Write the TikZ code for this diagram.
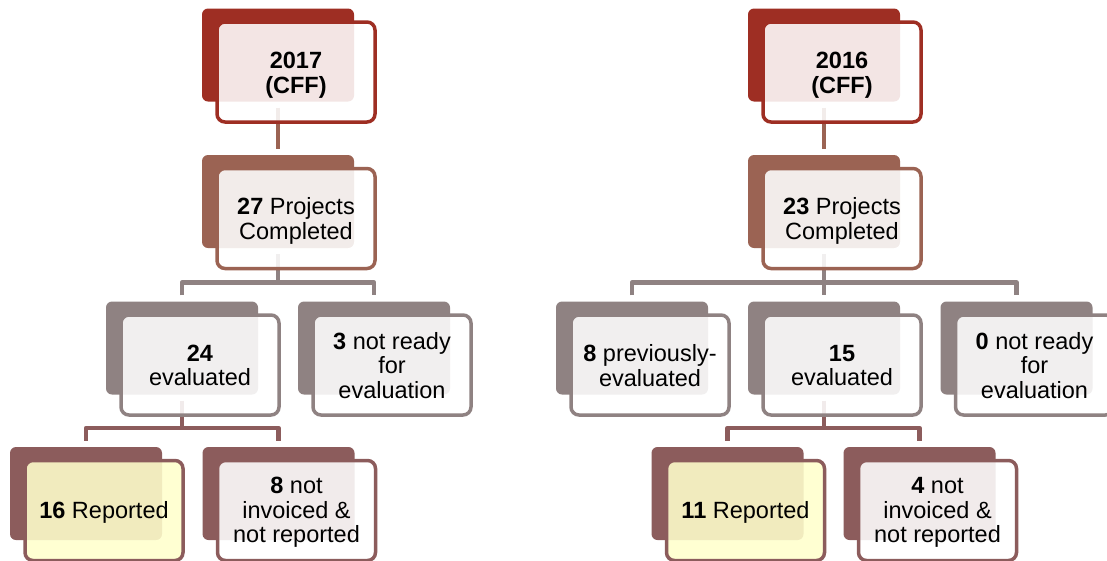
\documentclass[tikz,border=0pt]{standalone}
\usepackage{fontspec}
\setmainfont{Liberation Sans}
\usetikzlibrary{calc}
\definecolor{lvA}{RGB}{158,46,35}
\definecolor{lvB}{RGB}{155,99,83}
\definecolor{lvC}{RGB}{143,130,130}
\definecolor{lvD}{RGB}{140,92,92}
\definecolor{hl}{RGB}{255,255,204}
\begin{document}
\begin{tikzpicture}[x=1pt,y=-1pt,
  back/.style={rectangle, rounded corners=6pt, minimum width=152pt,
    minimum height=93pt, inner sep=0pt, draw=none, fill=#1},
  front/.style={rectangle, rounded corners=8pt, minimum width=158pt,
    minimum height=100pt, inner sep=0pt, line width=3.5pt, draw=#1,
    fill=white, fill opacity=0.88},
  cardtext/.style={inner sep=0pt, align=center, text=black,
    font=\fontsize{23.5}{24.7}\selectfont},
  link/.style={line width=4.5pt, draw=#1, line join=round},
]
\useasboundingbox (0,0) rectangle (1107,560);

% back plates
\node[back=lvA] (b17) at (278,55) {};
\node[back=lvB] (b27) at (278,201.5) {};
\node[back=lvC] (b24) at (182,348) {};
\node[back=lvC] (b3) at (374,348) {};
\node[back=lvD] (b16) at (86,493.5) {};
\node[back=lvD] (b8) at (278.5,493.5) {};

\node[back=lvA] (b16y) at (824,55) {};
\node[back=lvB] (b23) at (824,201.5) {};
\node[back=lvC] (b8p) at (632,348) {};
\node[back=lvC] (b15) at (824,348) {};
\node[back=lvC] (b0) at (1016.5,348) {};
\node[back=lvD] (b11) at (727.5,493.5) {};
\node[back=lvD] (b4) at (919.5,493.5) {};

% bus bars
\coordinate (barL2) at (278,282.5);
\coordinate (barL3) at (182,428);
\coordinate (barR2) at (824,282.5);
\coordinate (barR3) at (824,428);

% connectors (left tree)
\draw[link=lvB, shorten <=6pt, shorten >=6pt] (b17.south) -- (b27.north);
\draw[link=lvC, shorten <=6pt] (b27.south) -- (barL2);
\draw[link=lvC, shorten <=6pt, shorten >=6pt] (b24.north) |- (barL2) -| (b3.north);
\draw[link=lvD, shorten <=6pt] (b24.south) -- (barL3);
\draw[link=lvD, shorten <=6pt, shorten >=6pt] (b16.north) |- (barL3) -| (b8.north);

% connectors (right tree)
\draw[link=lvB, shorten <=6pt, shorten >=6pt] (b16y.south) -- (b23.north);
\draw[link=lvC, shorten <=6pt, shorten >=6pt] (b23.south) -- (b15.north);
\draw[link=lvC, shorten <=6pt, shorten >=6pt] (b8p.north) |- (barR2) -| (b0.north);
\draw[link=lvD, shorten <=6pt] (b15.south) -- (barR3);
\draw[link=lvD, shorten <=6pt, shorten >=6pt] (b11.north) |- (barR3) -| (b4.north);

% front cards (left tree)
\node[front=lvA] (f17) at ($(b17)+(18,17)$) {};
\node[front=lvB] (f27) at ($(b27)+(18,17)$) {};
\node[front=lvC] (f24) at ($(b24)+(18,17)$) {};
\node[front=lvC] (f3) at ($(b3)+(18,17)$) {};
\node[front=lvD, fill=hl] (f16) at ($(b16)+(18,17)$) {};
\node[front=lvD] (f8) at ($(b8)+(18,17)$) {};

% front cards (right tree)
\node[front=lvA] (f16y) at ($(b16y)+(18,17)$) {};
\node[front=lvB] (f23) at ($(b23)+(18,17)$) {};
\node[front=lvC] (f8p) at ($(b8p)+(18,17)$) {};
\node[front=lvC] (f15) at ($(b15)+(18,17)$) {};
\node[front=lvC] (f0) at ($(b0)+(18,17)$) {};
\node[front=lvD, fill=hl] (f11) at ($(b11)+(18,17)$) {};
\node[front=lvD] (f4) at ($(b4)+(18,17)$) {};

% card texts
\node[cardtext] (t17) at ($(f17)+(0,3)$) {\textbf{2017}\\\textbf{(CFF)}};
\node[cardtext] (t27) at ($(f27)+(0,2.5)$) {\textbf{27} Projects\\Completed};
\node[cardtext] (t24) at ($(f24)+(0,0.5)$) {\textbf{24}\\evaluated};
\node[cardtext] (t3) at ($(f3)+(0,0.5)$) {\textbf{3} not ready\\for\\evaluation};
\node[cardtext] (t16) at ($(f16)+(0,2)$) {\textbf{16} Reported};
\node[cardtext] (t8) at ($(f8)+(0,2)$) {\textbf{8} not\\invoiced \&\\not reported};

\node[cardtext] (t16y) at ($(f16y)+(0,3)$) {\textbf{2016}\\\textbf{(CFF)}};
\node[cardtext] (t23) at ($(f23)+(0,2.5)$) {\textbf{23} Projects\\Completed};
\node[cardtext] (t8p) at ($(f8p)+(0,0.5)$) {\textbf{8} previously-\\evaluated};
\node[cardtext] (t15) at ($(f15)+(0,0.5)$) {\textbf{15}\\evaluated};
\node[cardtext] (t0) at ($(f0)+(0,0.5)$) {\textbf{0} not ready\\for\\evaluation};
\node[cardtext] (t11) at ($(f11)+(0,2)$) {\textbf{11} Reported};
\node[cardtext] (t4) at ($(f4)+(0,2)$) {\textbf{4} not\\invoiced \&\\not reported};
\end{tikzpicture}
\end{document}
